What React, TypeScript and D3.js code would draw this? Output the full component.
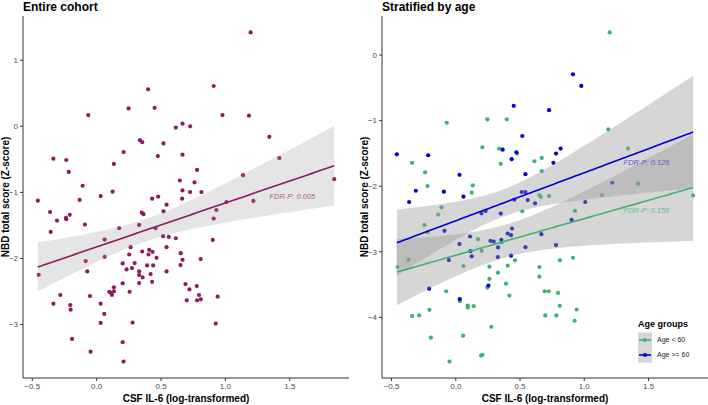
import React, { useEffect, useRef } from 'react';
import * as d3 from 'd3';

// Entire cohort: CSF IL-6 (x) vs NBD total score (y)
const cohortX = [1.196, 0.40, 0.909, 0.248, 0.45, -0.065, 0.977, 1.183, 0.615, 0.667, 0.726, 1.341, 0.336, 0.354, 0.519, -0.336, -0.236, 0.209, 0.475, 0.667, 0.134, -0.217, 0.78, 1.419, 1.137, 0.646, 0.76, -0.109, 0.667, 0.726, 0.814, 0.124, 1.845, -0.457, -0.132, 0.031, 0.431, 0.478, 0.664, 1.217, 1.008, 0.543, -0.362, 0.351, 0.364, 0.519, 0.93, -0.209, -0.238, -0.236, -0.308, 0.909, -0.091, 0.33, -0.357, 0.175, 0.457, 0.516, 0.56, 0.615, 0.062, 0.902, 0.543, 0.264, 0.062, 0.253, 0.354, 0.408, 0.403, 0.434, 0.465, 0.653, 0.667, 0.808, -0.085, -0.45, -0.073, 0.202, 0.295, 0.233, 0.274, 0.392, 0.439, 0.33, 0.357, 0.33, 0.419, 0.431, 0.543, 0.651, 0.202, 0.33, -0.282, -0.336, -0.205, -0.202, -0.052, 0.031, 0.059, 0.031, 0.098, 0.111, 0.119, 0.134, 0.134, 0.256, 0.279, -0.191, -0.047, 0.202, 0.209, 0.69, 0.721, 0.778, 0.795, 0.70, 0.78, 0.809, 0.94, 0.925];
const cohortY = [1.42, 0.56, 0.61, 0.27, 0.28, 0.17, 0.17, 0.16, -0.02, 0.04, 0.0, -0.16, -0.21, -0.24, -0.26, -0.49, -0.51, -0.39, -0.45, -0.43, -0.57, -0.69, -0.66, -0.48, -0.74, -0.82, -0.85, -0.90, -0.97, -0.995, -0.995, -0.99, -0.80, -1.125, -1.115, -1.056, -1.095, -1.065, -1.095, -1.13, -1.146, -1.186, -1.297, -1.307, -1.33, -1.287, -1.267, -1.34, -1.387, -1.407, -1.427, -1.397, -1.487, -1.493, -1.598, -1.543, -1.543, -1.663, -1.674, -1.694, -1.714, -1.72, -1.83, -1.83, -1.976, -1.94, -1.895, -1.87, -1.94, -1.90, -1.99, -1.92, -2.02, -2.01, -2.04, -2.247, -2.196, -2.075, -2.07, -2.166, -2.146, -2.106, -2.106, -2.196, -2.287, -2.25, -2.237, -2.353, -2.196, -2.10, -2.377, -2.373, -2.553, -2.685, -2.705, -2.775, -2.569, -2.685, -2.84, -2.976, -2.504, -2.519, -2.553, -2.498, -2.437, -2.504, -2.971, -3.217, -3.41, -3.267, -3.56, -2.388, -2.468, -2.418, -2.553, -2.634, -2.634, -2.618, -2.579, -2.986];

// Stratified: Age < 60
const youngX = [1.198, -0.07, 0.246, 0.397, 1.187, -0.34, 0.207, 0.337, 0.477, 0.35, 0.612, 0.669, -0.239, 0.669, -0.22, 0.132, 0.124, 0.651, 0.663, 0.726, 1.34, 1.42, 1.138, 1.848, 0.928, 0.518, -0.111, -0.137, -0.244, -0.22, 0.173, 0.355, 0.202, -0.368, 0.461, 0.811, 0.912, -0.453, 0.06, 0.262, 0.404, 0.651, 0.329, 0.262, 0.651, 0.391, 0.246, -0.075, 0.031, 0.093, 0.093, 0.14, 0.417, 0.692, 0.723, 0.796, 0.809, 0.941, -0.205, -0.34, -0.285, 0.697, 0.783, 0.925, 0.277, -0.194, 0.057, 0.207, 0.197, -0.049];
const youngY = [0.345, -1.032, -0.98, -0.98, -1.133, -1.644, -1.406, -1.426, -1.502, -1.659, -1.619, -1.568, -1.79, -1.77, -1.998, -1.988, -2.099, -2.135, -2.165, -2.15, -1.426, -1.962, -2.135, -2.14, -2.377, -2.382, -2.322, -2.433, -2.59, -2.701, -2.807, -2.857, -2.985, -3.121, -3.131, -3.131, -3.091, -3.232, -3.217, -3.227, -3.212, -3.232, -3.318, -3.414, -3.38, -3.486, -3.546, -3.602, -3.753, -3.819, -3.85, -3.829, -3.668, -3.602, -3.602, -3.627, -3.824, -3.88, -3.885, -3.98, -3.971, -3.971, -3.971, -4.052, -4.143, -4.31, -4.279, -4.572, -4.583, -4.674];

// Stratified: Age >= 60
const olderX = [0.912, 0.977, 0.451, 0.726, 0.518, -0.459, -0.215, 0.365, 0.435, 0.472, 0.78, 0.816, 0.76, 0.029, 0.542, -0.311, -0.093, 0.06, -0.363, 0.513, 0.542, 0.456, 0.56, 0.617, 1.218, 1.008, 0.902, 0.35, 0.2, 0.233, -0.088, 0.438, 0.404, 0.43, 0.666, 0.111, 0.27, 0.295, 0.355, 0.329, 0.029, 0.114, 0.542, 0.78, 0.124, 0.327, 0.43, -0.054, 0.254, -0.208, 0.031];
const olderY = [-0.293, -0.47, -0.774, -0.84, -1.234, -1.513, -1.528, -1.442, -1.588, -1.482, -1.502, -1.426, -1.644, -1.826, -1.816, -2.069, -2.084, -2.16, -2.241, -2.09, -2.09, -2.205, -2.211, -2.261, -1.947, -2.241, -2.514, -2.417, -2.413, -2.378, -2.681, -2.645, -2.721, -2.747, -2.731, -2.767, -2.833, -2.843, -2.818, -2.934, -2.883, -2.99, -2.929, -2.898, -3.07, -3.08, -3.06, -3.126, -3.516, -3.562, -3.723];

const xTicks = [-0.5, 0, 0.5, 1, 1.5];
const leftYTicks = [1, 0, -1, -2, -3];
const rightYTicks = [0, -1, -2, -3, -4];
const groupLabels = ['Age < 60', 'Age >= 60'];
// annotation text and placement (data units)
const cohortNote = { text: 'FDR-P: 0.005', x: 1.52, y: -1.06 };
const groupNotes = [
  { text: 'FDR-P: 0.156', x: 1.485, y: -2.367 },
  { text: 'FDR-P: 0.126', x: 1.485, y: -1.643 },
];

const FONT = '"Liberation Sans", Arial, Helvetica, sans-serif';

// ordinary least squares + 95% confidence band
function lmBand(xs: number[], ys: number[], x0: number, x1: number) {
  const n = xs.length;
  const mx = d3.mean(xs)!, my = d3.mean(ys)!;
  let sxx = 0, sxy = 0;
  xs.forEach((x, i) => { sxx += (x - mx) ** 2; sxy += (x - mx) * (ys[i] - my); });
  const b = sxy / sxx, a = my - b * mx;
  let sse = 0;
  xs.forEach((x, i) => { sse += (ys[i] - a - b * x) ** 2; });
  const df = n - 2;
  const s = Math.sqrt(sse / df);
  const z = 1.959964;
  const t = z + (z ** 3 + z) / (4 * df) + (5 * z ** 5 + 16 * z ** 3 + 3 * z) / (96 * df * df);
  return d3.range(0, 81).map(i => {
    const x = x0 + (x1 - x0) * i / 80;
    const fit = a + b * x;
    const se = s * Math.sqrt(1 / n + (x - mx) ** 2 / sxx);
    return { x, fit, lo: fit - t * se, hi: fit + t * se };
  });
}

function expand(ext: [number, number]): [number, number] {
  const r = ext[1] - ext[0];
  return [ext[0] - r * 0.05, ext[1] + r * 0.05];
}

export default function App() {
  const ref = useRef<SVGSVGElement>(null);

  useEffect(() => {
    const svg = d3.select(ref.current);
    svg.selectAll('*').remove();
    const top = 16, bottom = 378;

    function panel(opts: {
      left: number; right: number; title: string; yTicks: number[];
      series: { xs: number[]; ys: number[]; color: string; note: { text: string; x: number; y: number }; noteColor: string }[];
      ribbonOpacity: number;
    }) {
      const allX = opts.series.flatMap(s => s.xs);
      const allY = opts.series.flatMap(s => s.ys);
      const xExt = d3.extent(allX) as [number, number];
      const x = d3.scaleLinear().domain(expand(xExt)).range([opts.left, opts.right]);
      const y = d3.scaleLinear().domain(expand(d3.extent(allY) as [number, number])).range([bottom, top]);
      const g = svg.append('g');

      const bands = opts.series.map(s => lmBand(s.xs, s.ys, xExt[0], xExt[1]));

      // points
      opts.series.forEach(s => {
        g.append('g').selectAll('circle').data(s.xs).enter().append('circle')
          .attr('cx', d => x(d)).attr('cy', (d, i) => y(s.ys[i]))
          .attr('r', 2.1).attr('fill', s.color);
      });

      // ribbons (drawn over the points)
      const area = d3.area<any>().x(d => x(d.x)).y0(d => y(d.lo)).y1(d => y(d.hi));
      bands.forEach(b => {
        g.append('path').attr('d', area(b)!).attr('fill', '#999999').attr('opacity', opts.ribbonOpacity);
      });
      // fit lines
      const line = d3.line<any>().x(d => x(d.x)).y(d => y(d.fit));
      bands.forEach((b, i) => {
        g.append('path').attr('d', line(b)!).attr('fill', 'none')
          .attr('stroke', opts.series[i].color).attr('stroke-width', 1.6);
      });
      // notes
      opts.series.forEach(s => {
        g.append('text').attr('x', x(s.note.x)).attr('y', y(s.note.y)).attr('dy', '0.35em')
          .attr('text-anchor', 'middle').attr('font-family', FONT).attr('font-size', 7.5)
          .attr('font-style', 'italic').attr('fill', s.noteColor).text(s.note.text);
      });

      // axes
      const axisCol = '#333333';
      g.append('line').attr('x1', opts.left).attr('x2', opts.left).attr('y1', top).attr('y2', bottom)
        .attr('stroke', axisCol).attr('stroke-width', 1);
      g.append('line').attr('x1', opts.left).attr('x2', opts.right).attr('y1', bottom).attr('y2', bottom)
        .attr('stroke', axisCol).attr('stroke-width', 1);
      opts.yTicks.forEach(v => {
        g.append('line').attr('x1', opts.left - 3).attr('x2', opts.left).attr('y1', y(v)).attr('y2', y(v))
          .attr('stroke', axisCol);
        g.append('text').attr('x', opts.left - 5).attr('y', y(v)).attr('dy', '0.35em')
          .attr('text-anchor', 'end').attr('font-family', FONT).attr('font-size', 8)
          .attr('fill', '#4d4d4d').text(d3.format('')(v));
      });
      xTicks.forEach(v => {
        g.append('line').attr('x1', x(v)).attr('x2', x(v)).attr('y1', bottom).attr('y2', bottom + 3)
          .attr('stroke', axisCol);
        g.append('text').attr('x', x(v)).attr('y', bottom + 11)
          .attr('text-anchor', 'middle').attr('font-family', FONT).attr('font-size', 8)
          .attr('fill', '#4d4d4d').text(d3.format('.1f')(v));
      });
      g.append('text').attr('x', (opts.left + opts.right) / 2).attr('y', bottom + 24)
        .attr('text-anchor', 'middle').attr('font-family', FONT).attr('font-size', 10)
        .attr('font-weight', 'bold').text('CSF IL-6 (log-transformed)');
      g.append('text').attr('transform', `translate(${opts.left - 14.5},${(top + bottom) / 2}) rotate(-90)`)
        .attr('text-anchor', 'middle').attr('font-family', FONT).attr('font-size', 10)
        .attr('font-weight', 'bold').text('NBD total score (Z-score)');
      g.append('text').attr('x', opts.left).attr('y', 11)
        .attr('font-family', FONT).attr('font-size', 12).attr('font-weight', 'bold').text(opts.title);
      return g;
    }

    panel({
      left: 23, right: 349, title: 'Entire cohort', yTicks: leftYTicks,
      series: [{ xs: cohortX, ys: cohortY, color: '#8b1c5e', note: cohortNote, noteColor: '#b4588f' }],
      ribbonOpacity: 0.25,
    });

    const colors = ['#3cb371', '#0000cd'];
    const g2 = panel({
      left: 382, right: 708, title: 'Stratified by age', yTicks: rightYTicks,
      series: [
        { xs: youngX, ys: youngY, color: colors[0], note: groupNotes[0], noteColor: '#5fbf87' },
        { xs: olderX, ys: olderY, color: colors[1], note: groupNotes[1], noteColor: '#5a5ad0' },
      ],
      ribbonOpacity: 0.4,
    });

    // legend
    const lg = g2.append('g').attr('transform', 'translate(638,322)');
    lg.append('text').attr('x', 0).attr('y', 5).attr('font-family', FONT).attr('font-size', 9)
      .attr('font-weight', 'bold').text('Age groups');
    groupLabels.forEach((lab, i) => {
      const cy = 18 + i * 15;
      lg.append('rect').attr('x', 0).attr('y', cy - 7.5).attr('width', 14).attr('height', 15).attr('fill', '#d6d6d6');
      lg.append('line').attr('x1', 1).attr('x2', 13).attr('y1', cy).attr('y2', cy)
        .attr('stroke', colors[i]).attr('stroke-width', 1.6);
      lg.append('circle').attr('cx', 7).attr('cy', cy).attr('r', 2).attr('fill', colors[i]);
      lg.append('text').attr('x', 19).attr('y', cy).attr('dy', '0.35em').attr('font-family', FONT)
        .attr('font-size', 7).attr('fill', '#222').text(lab);
    });
  }, []);

  return (
    <svg ref={ref} width={708} height={405} style={{ position: 'absolute', left: 0, top: 0, background: '#fff' }} />
  );
}
